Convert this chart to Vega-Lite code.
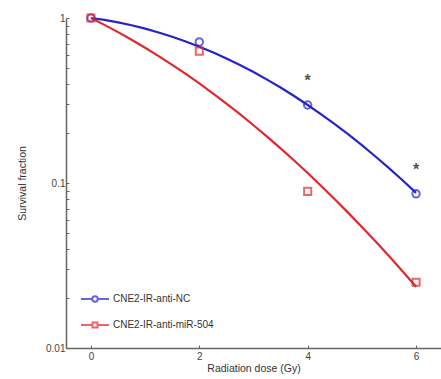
{
  "$schema": "https://vega.github.io/schema/vega-lite/v6.json",
  "width": 375,
  "height": 330,
  "autosize": {"type": "none"},
  "padding": {"left": 66, "top": 18, "right": 0, "bottom": 31},
  "config": {
    "view": {"stroke": null},
    "font": "Liberation Sans",
    "axis": {"grid": false, "domainColor": "#666", "domainWidth": 1.5, "tickColor": "#666", "labelColor": "#444", "titleColor": "#333", "labelFontSize": 10, "titleFontSize": 10.5, "titleFontWeight": "normal"}
  },
  "datasets": {
    "curve": [
      {"dose": 0, "sf": 1, "series": "CNE2-IR-anti-NC"},
      {"dose": 0.25, "sf": 0.973, "series": "CNE2-IR-anti-NC"},
      {"dose": 0.5, "sf": 0.9407, "series": "CNE2-IR-anti-NC"},
      {"dose": 0.75, "sf": 0.9035, "series": "CNE2-IR-anti-NC"},
      {"dose": 1, "sf": 0.8624, "series": "CNE2-IR-anti-NC"},
      {"dose": 1.25, "sf": 0.8176, "series": "CNE2-IR-anti-NC"},
      {"dose": 1.5, "sf": 0.7701, "series": "CNE2-IR-anti-NC"},
      {"dose": 1.75, "sf": 0.7209, "series": "CNE2-IR-anti-NC"},
      {"dose": 2, "sf": 0.6704, "series": "CNE2-IR-anti-NC"},
      {"dose": 2.25, "sf": 0.6196, "series": "CNE2-IR-anti-NC"},
      {"dose": 2.5, "sf": 0.5687, "series": "CNE2-IR-anti-NC"},
      {"dose": 2.75, "sf": 0.5187, "series": "CNE2-IR-anti-NC"},
      {"dose": 3, "sf": 0.4701, "series": "CNE2-IR-anti-NC"},
      {"dose": 3.25, "sf": 0.4232, "series": "CNE2-IR-anti-NC"},
      {"dose": 3.5, "sf": 0.3788, "series": "CNE2-IR-anti-NC"},
      {"dose": 3.75, "sf": 0.3366, "series": "CNE2-IR-anti-NC"},
      {"dose": 4, "sf": 0.2971, "series": "CNE2-IR-anti-NC"},
      {"dose": 4.25, "sf": 0.2607, "series": "CNE2-IR-anti-NC"},
      {"dose": 4.5, "sf": 0.2273, "series": "CNE2-IR-anti-NC"},
      {"dose": 4.75, "sf": 0.1968, "series": "CNE2-IR-anti-NC"},
      {"dose": 5, "sf": 0.1694, "series": "CNE2-IR-anti-NC"},
      {"dose": 5.25, "sf": 0.1448, "series": "CNE2-IR-anti-NC"},
      {"dose": 5.5, "sf": 0.1231, "series": "CNE2-IR-anti-NC"},
      {"dose": 5.75, "sf": 0.1039, "series": "CNE2-IR-anti-NC"},
      {"dose": 6, "sf": 0.0871, "series": "CNE2-IR-anti-NC"},
      {"dose": 0, "sf": 1, "series": "CNE2-IR-anti-miR-504"},
      {"dose": 0.25, "sf": 0.9087, "series": "CNE2-IR-anti-miR-504"},
      {"dose": 0.5, "sf": 0.8215, "series": "CNE2-IR-anti-miR-504"},
      {"dose": 0.75, "sf": 0.7386, "series": "CNE2-IR-anti-miR-504"},
      {"dose": 1, "sf": 0.6607, "series": "CNE2-IR-anti-miR-504"},
      {"dose": 1.25, "sf": 0.5878, "series": "CNE2-IR-anti-miR-504"},
      {"dose": 1.5, "sf": 0.5203, "series": "CNE2-IR-anti-miR-504"},
      {"dose": 1.75, "sf": 0.4581, "series": "CNE2-IR-anti-miR-504"},
      {"dose": 2, "sf": 0.4013, "series": "CNE2-IR-anti-miR-504"},
      {"dose": 2.25, "sf": 0.3496, "series": "CNE2-IR-anti-miR-504"},
      {"dose": 2.5, "sf": 0.3029, "series": "CNE2-IR-anti-miR-504"},
      {"dose": 2.75, "sf": 0.2611, "series": "CNE2-IR-anti-miR-504"},
      {"dose": 3, "sf": 0.2239, "series": "CNE2-IR-anti-miR-504"},
      {"dose": 3.25, "sf": 0.191, "series": "CNE2-IR-anti-miR-504"},
      {"dose": 3.5, "sf": 0.1621, "series": "CNE2-IR-anti-miR-504"},
      {"dose": 3.75, "sf": 0.1369, "series": "CNE2-IR-anti-miR-504"},
      {"dose": 4, "sf": 0.1149, "series": "CNE2-IR-anti-miR-504"},
      {"dose": 4.25, "sf": 0.096, "series": "CNE2-IR-anti-miR-504"},
      {"dose": 4.5, "sf": 0.0797, "series": "CNE2-IR-anti-miR-504"},
      {"dose": 4.75, "sf": 0.0659, "series": "CNE2-IR-anti-miR-504"},
      {"dose": 5, "sf": 0.0542, "series": "CNE2-IR-anti-miR-504"},
      {"dose": 5.25, "sf": 0.0443, "series": "CNE2-IR-anti-miR-504"},
      {"dose": 5.5, "sf": 0.0361, "series": "CNE2-IR-anti-miR-504"},
      {"dose": 5.75, "sf": 0.0292, "series": "CNE2-IR-anti-miR-504"},
      {"dose": 6, "sf": 0.0235, "series": "CNE2-IR-anti-miR-504"}
    ],
    "points": [
      {"dose": 0, "sf": 1, "series": "CNE2-IR-anti-NC"},
      {"dose": 2, "sf": 0.716, "series": "CNE2-IR-anti-NC"},
      {"dose": 4, "sf": 0.297, "series": "CNE2-IR-anti-NC"},
      {"dose": 6, "sf": 0.086, "series": "CNE2-IR-anti-NC"},
      {"dose": 0, "sf": 1, "series": "CNE2-IR-anti-miR-504"},
      {"dose": 2, "sf": 0.63, "series": "CNE2-IR-anti-miR-504"},
      {"dose": 4, "sf": 0.089, "series": "CNE2-IR-anti-miR-504"},
      {"dose": 6, "sf": 0.025, "series": "CNE2-IR-anti-miR-504"}
    ],
    "stars": [
      {"dose": 4, "sf": 0.44, "label": "*"},
      {"dose": 6, "sf": 0.127, "label": "*"}
    ]
  },
  "encoding": {
    "x": {"field": "dose", "type": "quantitative", "scale": {"domain": [-0.46, 6.46], "nice": false, "zero": false},
      "axis": {"title": "Radiation dose (Gy)", "values": [0, 2, 4, 6], "tickSize": -3, "labelPadding": 6, "titlePadding": 2}},
    "y": {"field": "sf", "type": "quantitative", "scale": {"type": "log", "domain": [0.01, 1], "nice": false},
      "axis": {"title": "Survival fraction", "values": [0.01, 0.02, 0.03, 0.04, 0.05, 0.06, 0.07, 0.08, 0.09, 0.1, 0.2, 0.3, 0.4, 0.5, 0.6, 0.7, 0.8, 0.9, 1],
        "labelExpr": "datum.value == 1 ? '1' : (datum.value == 0.1 ? '0.1' : (datum.value == 0.01 ? '0.01' : ''))",
        "tickSize": -3, "labelPadding": 4, "titlePadding": 18}}
  },
  "layer": [
    {
      "data": {"name": "curve"},
      "mark": {"type": "line", "strokeWidth": 2.2},
      "encoding": {
        "color": {"field": "series", "type": "nominal", "scale": {"domain": ["CNE2-IR-anti-NC", "CNE2-IR-anti-miR-504"], "range": ["#2424c8", "#e0282c"]}}
      }
    },
    {
      "data": {"name": "points"},
      "transform": [{"filter": "datum.series == 'CNE2-IR-anti-NC'"}],
      "mark": {"type": "point", "shape": "circle", "filled": false, "size": 55, "strokeWidth": 2},
      "encoding": {
        "color": {"field": "series", "type": "nominal"}
      }
    },
    {
      "data": {"name": "points"},
      "transform": [{"filter": "datum.series == 'CNE2-IR-anti-miR-504'"}],
      "mark": {"type": "point", "shape": "square", "filled": false, "size": 50, "strokeWidth": 2},
      "encoding": {
        "color": {"field": "series", "type": "nominal"}
      }
    },
    {
      "data": {"name": "points"},
      "mark": {"type": "point", "filled": false, "opacity": 0, "strokeWidth": 2},
      "encoding": {
        "color": {"field": "series", "type": "nominal",
          "legend": {"title": null, "orient": "none", "legendX": 14, "legendY": 266, "symbolSize": 784, "symbolOpacity": 1, "symbolStrokeWidth": 2, "rowPadding": 4, "labelFontSize": 10, "labelColor": "#333", "labelOffset": 3}},
        "shape": {"field": "series", "type": "nominal",
          "scale": {"domain": ["CNE2-IR-anti-NC", "CNE2-IR-anti-miR-504"], "range": ["M-1,0L-0.2,0M0.2,0L1,0M-0.2,0A0.2,0.2,0,1,1,0.2,0A0.2,0.2,0,1,1,-0.2,0Z", "M-1,0L-0.18,0M0.18,0L1,0M-0.18,-0.18L0.18,-0.18L0.18,0.18L-0.18,0.18Z"]},
          "legend": {"title": null, "orient": "none", "legendX": 14, "legendY": 266, "symbolSize": 784, "symbolOpacity": 1, "symbolStrokeWidth": 2, "rowPadding": 4, "labelFontSize": 10, "labelColor": "#333", "labelOffset": 3}}
      }
    },
    {
      "data": {"name": "stars"},
      "mark": {"type": "text", "fontSize": 16, "fontWeight": "bold", "color": "#555", "baseline": "middle", "dy": 4},
      "encoding": {"text": {"field": "label"}}
    }
  ]
}
